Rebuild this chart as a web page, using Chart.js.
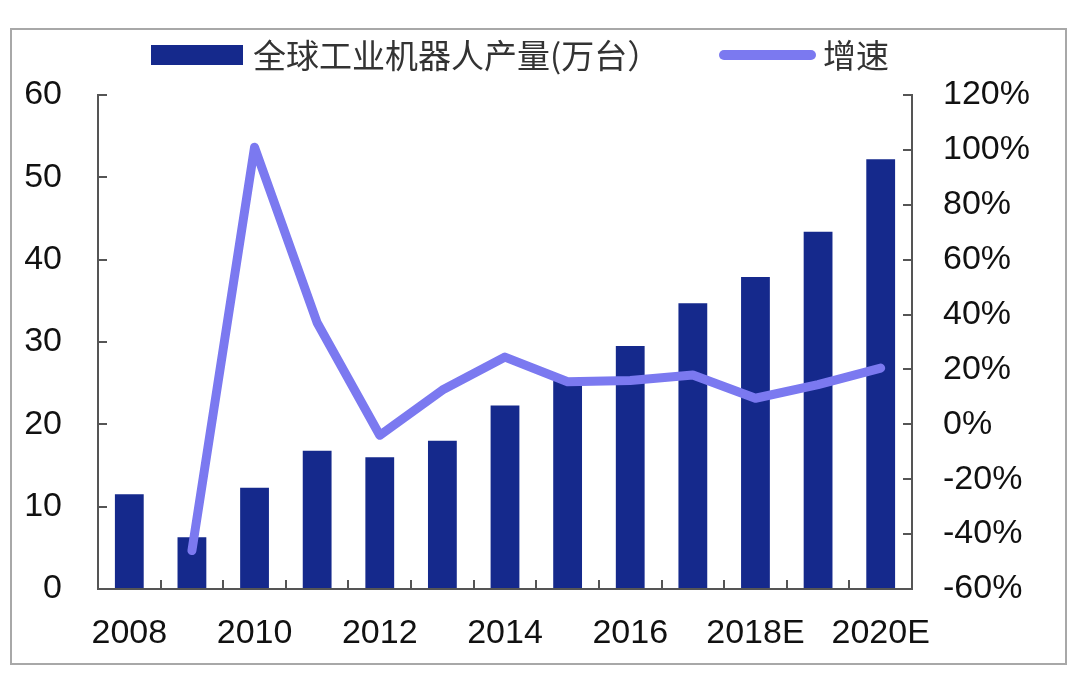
<!DOCTYPE html>
<html>
<head>
<meta charset="utf-8">
<script src="https://cdn.jsdelivr.net/npm/chart.js@4.4.1/dist/chart.umd.min.js"></script>
<style>
html,body{margin:0;padding:0;background:#fff;}
#wrap{position:relative;width:1080px;height:676px;overflow:hidden;}
#frame{position:absolute;left:10px;top:28px;width:1053px;height:633px;border:2px solid #a8a8a8;pointer-events:none;}
canvas{position:absolute;left:0;top:0;}
</style>
</head>
<body>
<div id="wrap">
<canvas id="c" width="1080" height="676"></canvas>
<div id="frame"></div>
</div>
<script>
// ---- data ----
const categories = ['2008','2009','2010','2011','2012','2013','2014','2015','2016','2017','2018E','2019E','2020E'];
const xTickLabels = ['2008','2010','2012','2014','2016','2018E','2020E'];
const production = [11.5, 6.3, 12.3, 16.8, 16.0, 18.0, 22.3, 25.4, 29.5, 34.7, 37.9, 43.4, 52.2];
const growth = [null, -46, 101, 37, -4, 12.5, 24.5, 15.5, 16, 18, 9.5, 14.5, 20.5];
const productionLabel = '全球工业机器人产量(万台）';
const growthLabel = '增速';

const barColor = '#15298c';
const lineColor = '#7b79f0';
const axisColor = '#555555';
const tickFont = {family: '"Liberation Sans", Arial, sans-serif', size: 34};

const legendPlugin = {
  id: 'customLegend',
  afterDraw(chart) {
    const ctx = chart.ctx;
    const ds = chart.data.datasets;
    ctx.save();
    ctx.font = '33px "Noto Sans CJK SC", sans-serif';
    ctx.textBaseline = 'middle';
    ctx.textAlign = 'left';
    ctx.fillStyle = ds[0].backgroundColor;
    ctx.fillRect(151, 45, 92, 20);
    ctx.fillStyle = '#333333';
    ctx.fillText(ds[0].label, 253, 55);
    ctx.strokeStyle = ds[1].borderColor;
    ctx.lineWidth = 10;
    ctx.lineCap = 'round';
    ctx.beginPath();
    ctx.moveTo(724, 55);
    ctx.lineTo(811, 55);
    ctx.stroke();
    ctx.fillStyle = '#333333';
    ctx.fillText(ds[1].label, 823, 55);
    ctx.restore();
  }
};

const gridOpts = {drawOnChartArea: false, drawTicks: true, tickLength: -9, color: axisColor, lineWidth: 2};
const borderOpts = {display: true, color: axisColor, width: 2};

new Chart(document.getElementById('c'), {
  type: 'bar',
  data: {
    labels: categories,
    datasets: [
      {
        type: 'bar',
        label: productionLabel,
        data: production,
        backgroundColor: barColor,
        borderWidth: 0,
        barPercentage: 0.46,
        categoryPercentage: 1.0,
        yAxisID: 'y',
        order: 2
      },
      {
        type: 'line',
        label: growthLabel,
        data: growth,
        borderColor: lineColor,
        backgroundColor: lineColor,
        borderWidth: 9,
        borderCapStyle: 'round',
        borderJoinStyle: 'round',
        pointRadius: 0,
        tension: 0,
        fill: false,
        yAxisID: 'y1',
        order: 1
      }
    ]
  },
  options: {
    responsive: false,
    animation: false,
    devicePixelRatio: 1,
    layout: {padding: {top: 95, left: 0, right: 0, bottom: 0}},
    plugins: {
      legend: {display: false},
      tooltip: {enabled: false},
      title: {display: false}
    },
    scales: {
      x: {
        offset: true,
        grid: Object.assign({offset: true}, gridOpts),
        border: borderOpts,
        ticks: {
          autoSkip: false,
          maxRotation: 0,
          minRotation: 0,
          padding: 33,
          color: '#111111',
          font: tickFont,
          callback: function(v, i) {
            const l = categories[i];
            return xTickLabels.includes(l) ? l : '';
          }
        },
        afterFit(s) { s.height = 87; }
      },
      y: {
        position: 'left',
        min: 0,
        max: 60,
        grid: gridOpts,
        border: borderOpts,
        ticks: {stepSize: 10, padding: 45, color: '#111111', font: tickFont},
        afterFit(s) { s.width = 98; }
      },
      y1: {
        position: 'right',
        min: -60,
        max: 120,
        grid: gridOpts,
        border: borderOpts,
        ticks: {
          stepSize: 20,
          padding: 40,
          color: '#111111',
          font: tickFont,
          callback: function(v) { return v + '%'; }
        },
        afterFit(s) { s.width = 168; }
      }
    }
  },
  plugins: [legendPlugin]
});
</script>
</body>
</html>
